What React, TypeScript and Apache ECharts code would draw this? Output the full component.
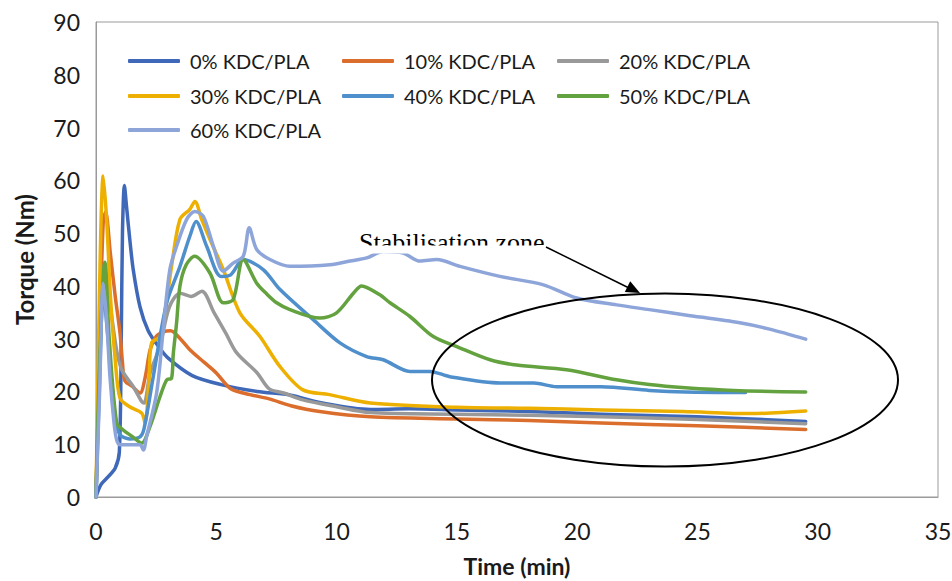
import React, { useEffect, useRef } from "react";
import * as echarts from "echarts";

const seriesNames = [
  "0% KDC/PLA",
  "10% KDC/PLA",
  "20% KDC/PLA",
  "30% KDC/PLA",
  "40% KDC/PLA",
  "50% KDC/PLA",
  "60% KDC/PLA",
];
const seriesColors = ["#3F69B8", "#DB6E2C", "#999999", "#EDB000", "#4F8FCB", "#63A23F", "#8EA5DA"];

const xTicks = [0, 5, 10, 15, 20, 25, 30, 35];
const yTicks = [0, 10, 20, 30, 40, 50, 60, 70, 80, 90];

// 0% KDC/PLA
const t0 = [0, 0.2, 0.5, 0.8, 0.97, 1.05, 1.1, 1.18, 1.27, 1.4, 1.55, 1.83, 2.17, 2.6, 3.0, 4.0, 5.2, 6.7, 8.1, 9.3, 11.4, 13, 15, 18, 21, 25, 29.5];
const q0 = [0, 2.3, 3.8, 5.5, 8.5, 30, 50, 59, 55, 49, 43, 36, 31.5, 28.5, 26.3, 23, 21.3, 20, 19.3, 17.9, 16.6, 16.7, 16.5, 16.2, 15.7, 15.2, 14.3];
// 10% KDC/PLA
const t1 = [0, 0.15, 0.3, 0.4, 0.6, 0.8, 1.0, 1.1, 1.2, 1.5, 1.83, 2.05, 2.25, 2.5, 2.8, 3.1, 3.5, 3.9, 4.5, 5.0, 5.6, 6.4, 7.2, 8.1, 9.3, 11.4, 15, 18, 21, 25, 29.5];
const q1 = [0, 30, 52, 54, 46, 38, 31, 25.5, 22, 21, 19.7, 22.8, 27.9, 30.4, 31.3, 31.5, 30, 27.9, 25.5, 23.5, 20.5, 19.4, 18.6, 17.3, 16.2, 15.2, 14.8, 14.5, 14.0, 13.5, 12.8];
// 20% KDC/PLA
const t2 = [0, 0.15, 0.35, 0.6, 0.85, 1.07, 1.55, 1.9, 2.0, 2.25, 2.65, 3.05, 3.5, 3.95, 4.4, 4.9, 5.4, 5.85, 6.7, 7.2, 7.8, 8.6, 10, 11.4, 15, 18, 21, 25, 29.5];
const q2 = [0, 25, 44, 36, 28, 24.1, 20.9, 18.1, 17.8, 23.5, 28.5, 36, 38.6, 38, 39, 35, 31, 27.3, 23.5, 20.5, 19.7, 18.4, 17.1, 16, 15.7, 15.5, 15.2, 14.7, 13.9];
// 30% KDC/PLA
const t3 = [0, 0.15, 0.3, 0.45, 0.6, 0.8, 1.0, 1.4, 1.9, 2.04, 2.2, 2.31, 2.66, 2.9, 3.14, 3.49, 3.9, 4.11, 4.4, 4.74, 5.29, 5.98, 6.8, 7.65, 8.6, 9.7, 11.4, 15, 18, 21, 24.4, 27.2, 29.5];
const q3 = [0, 40, 60.8, 52, 38, 26, 18.7, 17.1, 15.9, 14, 22, 29.2, 30.4, 36, 43.7, 52.6, 54.5, 56, 52.5, 48.8, 43.1, 34.9, 30.5, 24.7, 20.3, 19.4, 17.8, 17, 16.8, 16.5, 16.2, 15.8, 16.3];
// 40% KDC/PLA
const t4 = [0, 0.15, 0.3, 0.5, 0.8, 1.0, 1.4, 1.83, 2.0, 2.38, 2.94, 3.49, 3.9, 4.16, 4.6, 5.2, 5.6, 6.12, 6.95, 7.65, 9.03, 10.14, 11.25, 11.94, 13.05, 13.88, 14.71, 16.8, 18.2, 19.15, 21, 23, 24.5, 27];
const q4 = [0, 22, 39, 30, 15, 11.8, 11, 11.4, 13, 22.8, 36.8, 43.7, 49.4, 52.2, 47.5, 41.8, 42.1, 45, 43.1, 39.3, 33.6, 29.2, 26.6, 26, 23.8, 23.8, 22.8, 21.6, 21.6, 20.9, 20.9, 20.2, 19.9, 19.8];
// 50% KDC/PLA
const t5 = [0, 0.15, 0.37, 0.55, 0.86, 1.13, 1.5, 1.9, 2.24, 2.66, 2.94, 3.14, 3.21, 3.35, 3.49, 3.75, 4.1, 4.74, 5.29, 5.7, 6.12, 6.68, 7.09, 7.51, 8.06, 9.31, 10.0, 10.7, 11.04, 11.8, 12.22, 13.05, 14.02, 15.0, 16.38, 17.48, 19.56, 21.64, 23.0, 24.5, 26.5, 29.5];
const q5 = [0, 25, 44.5, 30, 14, 12.7, 11.5, 10.2, 13.3, 19, 22.2, 22.5, 27, 33, 40, 44, 45.6, 42.4, 36.8, 37.4, 45, 40.5, 38.5, 36.8, 35.5, 33.9, 34.9, 38.6, 40, 38.3, 36.8, 34.2, 30.4, 28.5, 26, 25, 24.1, 22.2, 21.3, 20.7, 20.2, 19.9];
// 60% KDC/PLA
const t6 = [0, 0.15, 0.3, 0.45, 0.58, 0.75, 0.86, 1.0, 1.5, 1.83, 1.97, 2.1, 2.52, 2.8, 3.07, 3.35, 3.77, 4.11, 4.46, 4.88, 5.29, 5.7, 6.12, 6.37, 6.68, 7.23, 8.06, 9.73, 10.56, 11.25, 11.94, 12.77, 13.47, 14.16, 15.13, 16.79, 18.6, 19.98, 21.64, 23.0, 24.5, 26.76, 28, 29.5];
const q6 = [0, 20, 40.5, 33, 22.8, 14, 10.8, 9.9, 9.9, 9.9, 8.9, 11.4, 19.7, 32, 43.1, 47.5, 52.6, 54.1, 53.2, 47.5, 42.8, 44.3, 45.6, 51, 46.9, 45, 43.7, 44, 44.7, 45.3, 46.5, 46.2, 44.7, 45, 43.7, 41.8, 40.2, 37.7, 36.4, 35.5, 34.5, 33, 31.8, 29.9];

const times = [t0, t1, t2, t3, t4, t5, t6];
const torques = [q0, q1, q2, q3, q4, q5, q6];

const annotationText = "Stabilisation zone";
const xAxisTitle = "Time (min)";
const yAxisTitle = "Torque (Nm)";

const FONT = "Lato, 'Open Sans', sans-serif";

export default function App() {
  const ref = useRef<HTMLDivElement>(null);
  useEffect(() => {
    document.body.style.margin = "0";
    const chart = echarts.init(ref.current!, null, { renderer: "svg" });
    const legendPos = [
      [128, 51], [342, 51], [557, 51],
      [128, 86], [342, 86], [557, 86],
      [128, 120],
    ];
    const option: any = {
      animation: false,
      backgroundColor: "#fff",
      grid: {
        left: 96,
        right: 14,
        top: 22,
        bottom: 84,
        show: true,
        borderColor: "#9a9a9a",
        borderWidth: 1,
        containLabel: false,
        outerBoundsMode: "none",
      },
      legend: seriesNames.map((n, i) => ({
        data: [n],
        left: legendPos[i][0],
        top: legendPos[i][1],
        orient: "horizontal",
        icon: "roundRect",
        itemWidth: 52,
        itemHeight: 4,
        padding: 0,
        textStyle: { fontFamily: FONT, fontSize: 20, color: "#1a1a1a", padding: [0, 0, 0, 5] },
      })),
      xAxis: {
        type: "value",
        min: xTicks[0],
        max: xTicks[xTicks.length - 1],
        interval: 5,
        name: xAxisTitle,
        nameLocation: "middle",
        nameGap: 57,
        nameTextStyle: { fontFamily: FONT, fontSize: 23, fontWeight: "bold", color: "#1a1a1a" },
        axisLine: { show: true, lineStyle: { color: "#9a9a9a" } },
        axisTick: { show: false },
        splitLine: { show: false },
        axisLabel: { fontFamily: FONT, fontSize: 23, color: "#1a1a1a", margin: 22 },
      },
      yAxis: {
        type: "value",
        min: yTicks[0],
        max: yTicks[yTicks.length - 1],
        interval: 10,
        name: yAxisTitle,
        nameLocation: "middle",
        nameGap: 60,
        nameTextStyle: { fontFamily: FONT, fontSize: 24, fontWeight: "bold", color: "#1a1a1a" },
        axisLine: { show: true, lineStyle: { color: "#9a9a9a" } },
        axisTick: { show: false },
        splitLine: { show: false },
        axisLabel: { fontFamily: FONT, fontSize: 23, color: "#1a1a1a", margin: 16 },
      },
      series: seriesNames.map((n, i) => ({
        name: n,
        type: "line",
        data: times[i].map((x, j) => [x, torques[i][j]]),
        smooth: 0.3,
        showSymbol: false,
        symbol: "none",
        color: seriesColors[i],
        lineStyle: { width: 3.5, color: seriesColors[i], cap: "round", join: "round" },
        clip: false,
      })),
      graphic: [
        {
          type: "ellipse",
          shape: { cx: 665, cy: 380, rx: 233, ry: 86.5 },
          style: { fill: "none", stroke: "#000", lineWidth: 2 },
          z: 100,
        },
        {
          type: "text",
          style: {
            text: annotationText,
            x: 359,
            y: 242,
            fill: "#000",
            font: "26px 'Liberation Serif', 'Times New Roman', serif",
            verticalAlign: "middle",
          },
          z: 100,
        },
        {
          type: "rect",
          shape: { x: 350, y: 245.5, width: 196, height: 8 },
          style: { fill: "#fff" },
          z: 101,
        },
        {
          type: "line",
          shape: { x1: 546, y1: 247, x2: 628, y2: 287.5 },
          style: { stroke: "#000", lineWidth: 1.5 },
          z: 102,
        },
        {
          type: "polygon",
          shape: { points: [[640, 293], [624.8, 292.1], [630.2, 281.3]] },
          style: { fill: "#000" },
          z: 102,
        },
      ],
    };
    chart.setOption(option);
    return () => chart.dispose();
  }, []);
  return <div ref={ref} style={{ width: 952, height: 581, background: "#fff" }} />;
}
